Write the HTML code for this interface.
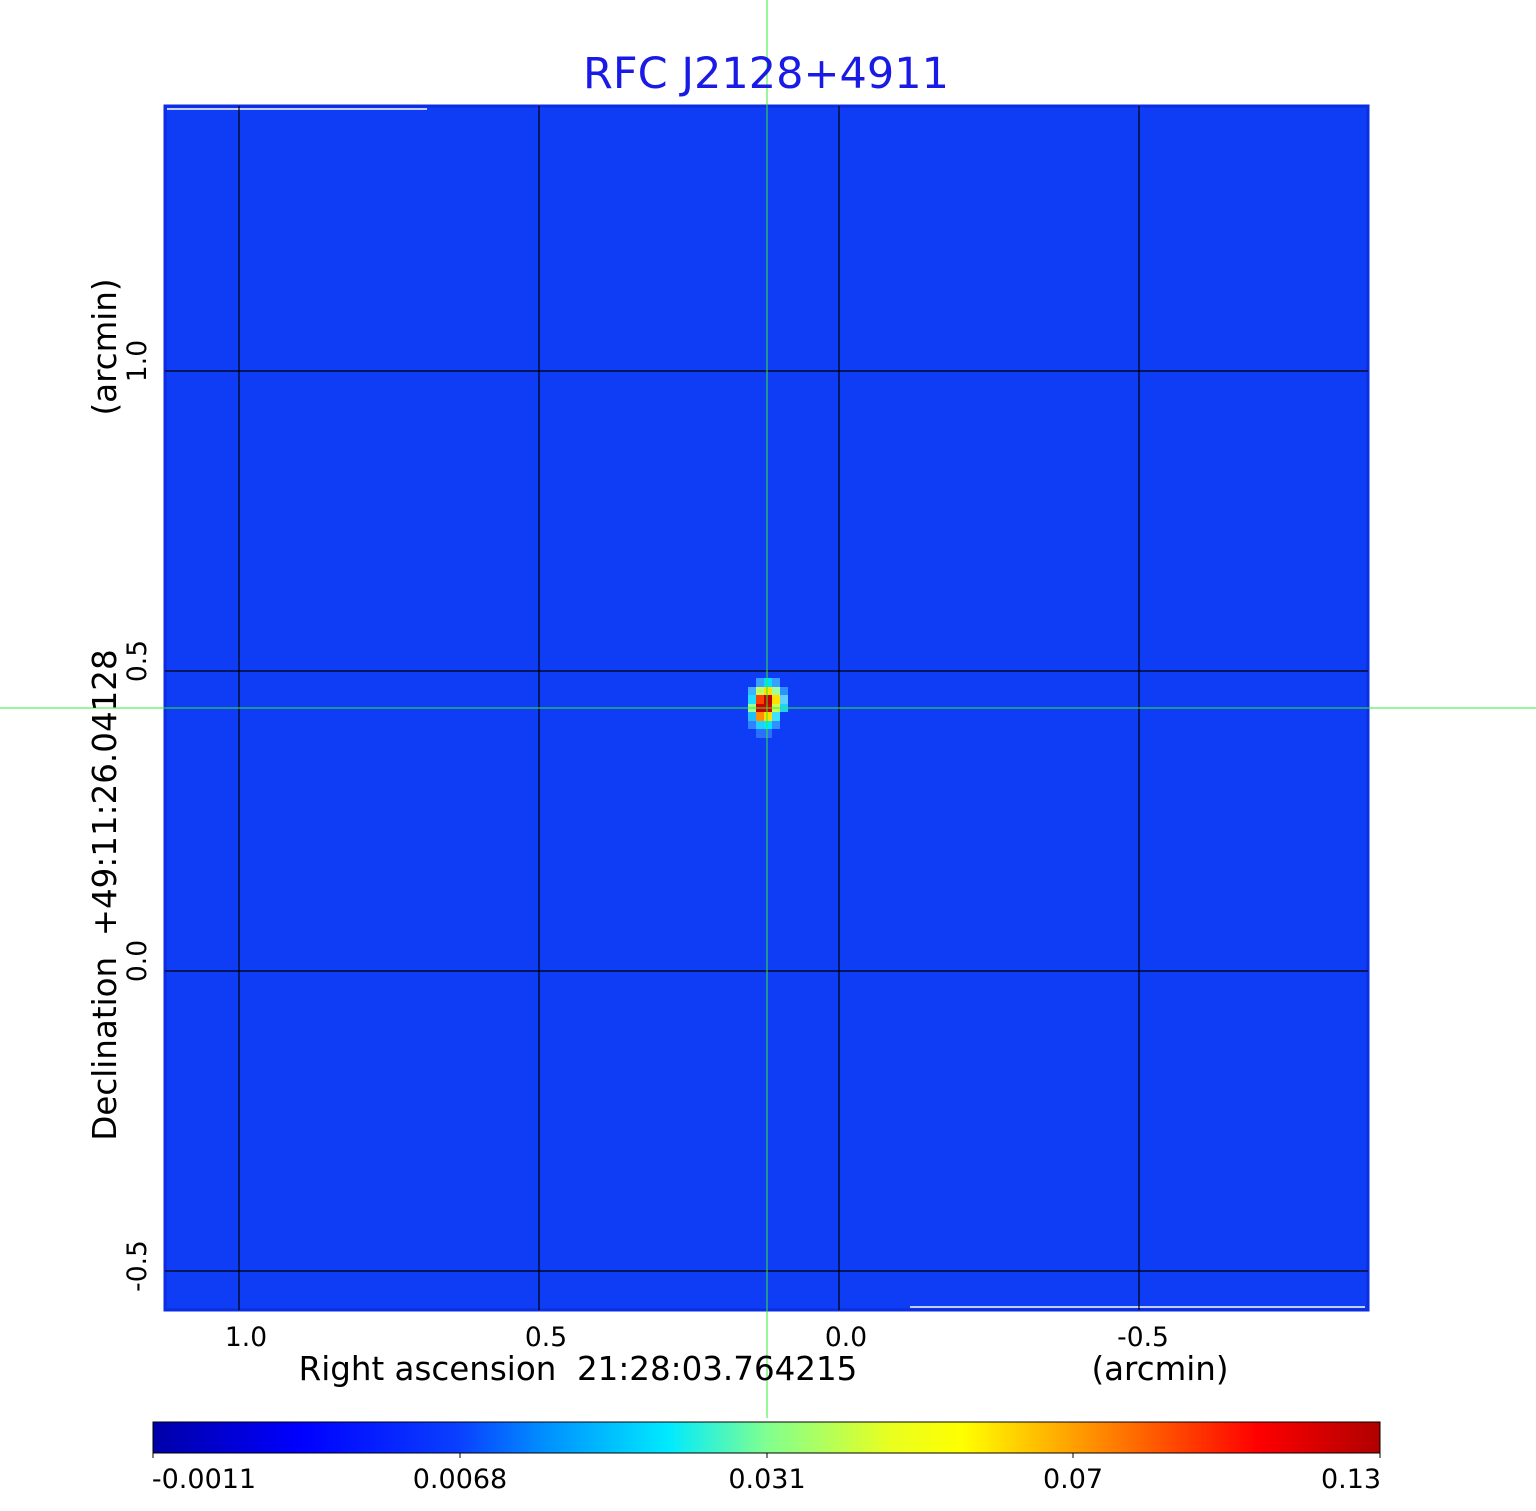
<!DOCTYPE html>
<html><head><meta charset="utf-8"><style>body{margin:0;background:#fff}svg{display:block}</style></head>
<body>
<svg width="1536" height="1511" xmlns="http://www.w3.org/2000/svg" font-family="DejaVu Sans, Liberation Sans, sans-serif">
<defs>
<linearGradient id="jet" x1="0" x2="1" y1="0" y2="0">
<stop offset="0" stop-color="#0000a8"/>
<stop offset="0.12" stop-color="#0000ff"/>
<stop offset="0.25" stop-color="#0a40ff"/>
<stop offset="0.32" stop-color="#0090ff"/>
<stop offset="0.42" stop-color="#00eaff"/>
<stop offset="0.5" stop-color="#80ff90"/>
<stop offset="0.6" stop-color="#e8ff20"/>
<stop offset="0.66" stop-color="#ffff00"/>
<stop offset="0.75" stop-color="#ffa000"/>
<stop offset="0.9" stop-color="#ff0000"/>
<stop offset="1" stop-color="#b00000"/>
</linearGradient>
</defs>
<rect x="165" y="106" width="1203" height="1204" fill="#0f3cf5"/>
<rect x="165" y="106" width="1203" height="1204" fill="none" stroke="#0a2ee0" stroke-width="3"/>
<line x1="167" y1="109" x2="427" y2="109" stroke="#fff" stroke-width="1.5"/>
<line x1="910" y1="1307" x2="1365" y2="1307" stroke="#fff" stroke-width="1.5"/>
<g stroke="#000" stroke-width="1.2">
<line x1="239" y1="106" x2="239" y2="1310"/>
<line x1="539" y1="106" x2="539" y2="1310"/>
<line x1="839" y1="106" x2="839" y2="1310"/>
<line x1="1139" y1="106" x2="1139" y2="1310"/>
<line x1="165" y1="371" x2="1368" y2="371"/>
<line x1="165" y1="671" x2="1368" y2="671"/>
<line x1="165" y1="971" x2="1368" y2="971"/>
<line x1="165" y1="1271" x2="1368" y2="1271"/>
</g>
<g>
<rect x="756" y="678" width="8" height="9" fill="#3aa0ff"/>
<rect x="764" y="678" width="8" height="9" fill="#00e0ff"/>
<rect x="772" y="678" width="8" height="9" fill="#3aa0ff"/>
<rect x="748" y="687" width="8" height="8" fill="#40b0ff"/>
<rect x="756" y="687" width="8" height="8" fill="#c0ff60"/>
<rect x="764" y="687" width="8" height="8" fill="#ffe000"/>
<rect x="772" y="687" width="8" height="8" fill="#a0ffa0"/>
<rect x="780" y="687" width="8" height="8" fill="#3090ff"/>
<rect x="748" y="695" width="8" height="9" fill="#20e0ff"/>
<rect x="756" y="695" width="8" height="9" fill="#ff4000"/>
<rect x="764" y="695" width="8" height="9" fill="#c00000"/>
<rect x="772" y="695" width="8" height="9" fill="#ffe000"/>
<rect x="780" y="695" width="8" height="9" fill="#60d0ff"/>
<rect x="748" y="704" width="8" height="8" fill="#a0ff90"/>
<rect x="756" y="704" width="8" height="8" fill="#d00000"/>
<rect x="764" y="704" width="8" height="8" fill="#d00000"/>
<rect x="772" y="704" width="8" height="8" fill="#c8ff50"/>
<rect x="780" y="704" width="8" height="8" fill="#20d0ff"/>
<rect x="748" y="712" width="8" height="9" fill="#20c0ff"/>
<rect x="756" y="712" width="8" height="9" fill="#ff9000"/>
<rect x="764" y="712" width="8" height="9" fill="#ffe000"/>
<rect x="772" y="712" width="8" height="9" fill="#40e0ff"/>
<rect x="748" y="721" width="8" height="8" fill="#3080ff"/>
<rect x="756" y="721" width="8" height="8" fill="#20d0ff"/>
<rect x="764" y="721" width="8" height="8" fill="#00e8ff"/>
<rect x="772" y="721" width="8" height="8" fill="#3090ff"/>
<rect x="756" y="729" width="8" height="9" fill="#2a70ff"/>
<rect x="764" y="729" width="8" height="9" fill="#2a70ff"/>
</g>
<line x1="767" y1="0" x2="767" y2="1418" stroke="#33ee33" stroke-width="1"/>
<line x1="0" y1="708" x2="1536" y2="708" stroke="#33ee33" stroke-width="1"/>
<text x="766" y="88" font-size="43" fill="#1a1ae6" text-anchor="middle">RFC J2128+4911</text>
<g font-size="26.5" fill="#000" text-anchor="middle">
<text x="246" y="1346">1.0</text>
<text x="546" y="1346">0.5</text>
<text x="846" y="1346">0.0</text>
<text x="1143" y="1346">-0.5</text>
</g>
<text x="578" y="1380" font-size="32.5" text-anchor="middle" xml:space="preserve">Right ascension  21:28:03.764215</text>
<text x="1160" y="1380" font-size="32.5" text-anchor="middle">(arcmin)</text>
<g font-size="26.5" text-anchor="middle">
<text transform="translate(146,361) rotate(-90)">1.0</text>
<text transform="translate(146,661) rotate(-90)">0.5</text>
<text transform="translate(146,961) rotate(-90)">0.0</text>
<text transform="translate(146,1266) rotate(-90)">-0.5</text>
</g>
<text transform="translate(116,347) rotate(-90)" font-size="32.5" text-anchor="middle">(arcmin)</text>
<text transform="translate(116,895) rotate(-90)" font-size="32.5" text-anchor="middle" xml:space="preserve">Declination  +49:11:26.04128</text>
<rect x="153" y="1422" width="1227" height="31" fill="url(#jet)" stroke="#000" stroke-width="1"/>
<g stroke="#000" stroke-width="1">
<line x1="153" y1="1453" x2="153" y2="1458"/><line x1="460" y1="1453" x2="460" y2="1458"/>
<line x1="767" y1="1453" x2="767" y2="1458"/><line x1="1073" y1="1453" x2="1073" y2="1458"/>
<line x1="1380" y1="1453" x2="1380" y2="1458"/>
</g>
<g font-size="27" text-anchor="middle">
<text x="204" y="1488">-0.0011</text>
<text x="460" y="1488">0.0068</text>
<text x="767" y="1488">0.031</text>
<text x="1073" y="1488">0.07</text>
<text x="1351" y="1488">0.13</text>
</g>
</svg>
</body></html>
